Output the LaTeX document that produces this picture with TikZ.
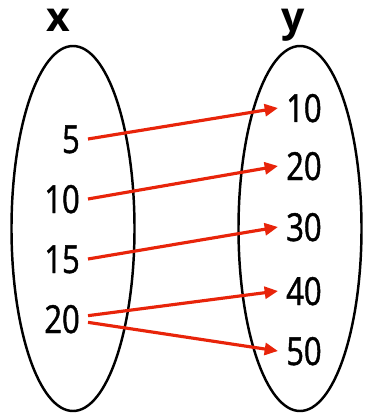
\documentclass[tikz,border=0pt]{standalone}
\usepackage{fontspec}
\setmainfont{Open Sans}
\newfontfamily\numfont[FakeStretch=0.8, FakeBold=1.2]{Open Sans}
\usepackage{xcolor}
\usepackage{tikz}
\usetikzlibrary{shapes.geometric, arrows.meta, positioning}
\definecolor{maparrow}{RGB}{232,36,10}
\tikzset{
  setbox/.style={ellipse, draw=black, line width=2.1pt, minimum width=3.69cm, minimum height=10.95cm, inner sep=0pt},
  setname/.style={font=\fontsize{35}{40}\selectfont\bfseries, inner sep=0pt},
  arrow/.style={-{Triangle[length=4mm, width=3.6mm]}, line width=2.7pt, draw=maparrow},
}

\begin{document}
\begin{tikzpicture}[
  elem/.style={font=\numfont\fontsize{33}{38}\selectfont, inner sep=0.24cm, text height=0.84cm, text depth=0pt}]

\useasboundingbox (0,0) rectangle (10.98,-12.48);

% the two sets
\node[setbox] (setx) at (2.19,-6.855) {};
\node[setbox] (sety) at (9.0,-6.855) {};
\node[setname, anchor=base] (xname) at (1.74,-0.96) {x};
\node[setname, anchor=base] (yname) at (8.79,-0.96) {y};

% elements of x (left)
\node[elem, anchor=base east] (x5)  at (2.64,-4.59) {5};
\node[elem, anchor=base east] (x10) at (2.64,-6.39) {10};
\node[elem, anchor=base east] (x15) at (2.64,-8.19) {15};
\node[elem, anchor=base east] (x20) at (2.64,-9.99) {20};

% elements of y (right)
\node[elem, anchor=base west] (y10) at (8.34,-3.66) {10};
\node[elem, anchor=base west] (y20) at (8.34,-5.40) {20};
\node[elem, anchor=base west] (y30) at (8.34,-7.23) {30};
\node[elem, anchor=base west] (y40) at (8.34,-9.15) {40};
\node[elem, anchor=base west] (y50) at (8.34,-10.95) {50};

% mapping
\draw[arrow] (x5.east) -- (y10.west);
\draw[arrow] (x10.east) -- (y20.west);
\draw[arrow] (x15.east) -- (y30.west);
\draw[arrow] ([yshift=0.1cm]x20.east) -- (y40.west);
\draw[arrow] ([yshift=-0.1cm]x20.east) -- (y50.west);
\end{tikzpicture}
\end{document}
